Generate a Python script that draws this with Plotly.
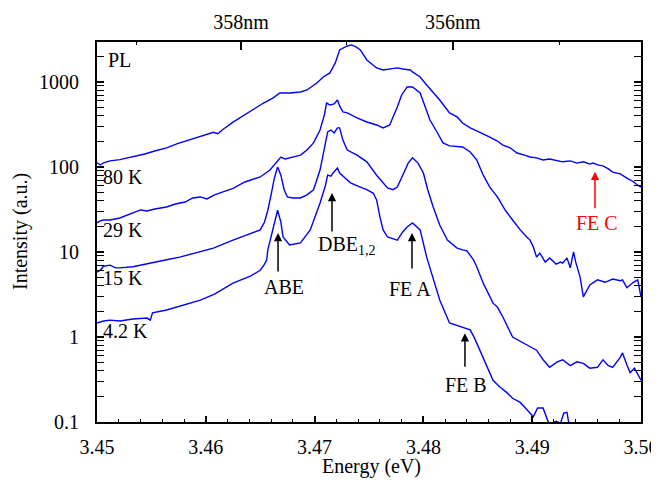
import math
import plotly.graph_objects as go

# ---------------- data ----------------
E_80K = [3.4500, 3.4503, 3.4506, 3.4512, 3.4521, 3.4533, 3.4544, 3.4553, 3.4564, 3.4574, 3.4583, 3.4592,
         3.4599, 3.4607, 3.4611, 3.4615, 3.4625, 3.4631, 3.4643, 3.4653, 3.4662, 3.4668, 3.4677, 3.4687,
         3.4693, 3.4702, 3.4708, 3.4714, 3.4719, 3.4723, 3.4730, 3.4734, 3.4738, 3.4742, 3.4748, 3.4754,
         3.4757, 3.4763, 3.4769, 3.4776, 3.4781, 3.4788, 3.4790, 3.4797, 3.4803, 3.4809, 3.4815, 3.4824,
         3.4831, 3.4836, 3.4843, 3.4849, 3.4855, 3.4861, 3.4868, 3.4873, 3.4880, 3.4886, 3.4893, 3.4898,
         3.4904, 3.4910, 3.4916, 3.4923, 3.4928, 3.4935, 3.4941, 3.4947, 3.4953, 3.4956, 3.4960, 3.4965,
         3.4970, 3.4974, 3.4981, 3.4987, 3.4993, 3.4997, 3.5000]
I_80K = [112, 106, 112, 118, 122, 131, 142, 154, 168, 188, 205, 222,
         238, 256, 246, 272, 337, 377, 468, 565, 649, 742, 742, 763,
         805, 973, 1145, 1276, 1674, 2380, 2652, 2725, 2580, 2380, 1815, 1585,
         1462, 1384, 1422, 1462, 1422, 1384, 1312, 1145, 922, 763, 614, 432,
         388, 329, 288, 265, 245, 225, 202, 181, 167, 146, 138, 131,
         128, 121, 124, 118, 115, 118, 111, 115, 108, 111, 106, 103,
         95, 87, 83, 74, 67, 61, 58]

E_29K = [3.4500, 3.4503, 3.4506, 3.4512, 3.4521, 3.4533, 3.4540, 3.4546, 3.4553, 3.4564, 3.4572, 3.4581,
         3.4588, 3.4595, 3.4601, 3.4608, 3.4625, 3.4636, 3.4650, 3.4659, 3.4665, 3.4669, 3.4673, 3.4677,
         3.4687, 3.4693, 3.4699, 3.4705, 3.4709, 3.4711, 3.4714, 3.4718, 3.4721, 3.4723, 3.4726, 3.4730,
         3.4739, 3.4748, 3.4757, 3.4763, 3.4769, 3.4776, 3.4780, 3.4785, 3.4790, 3.4797, 3.4801, 3.4806,
         3.4813, 3.4818, 3.4824, 3.4831, 3.4836, 3.4843, 3.4849, 3.4855, 3.4861, 3.4868, 3.4875, 3.4882,
         3.4889, 3.4895, 3.4898, 3.4901, 3.4904, 3.4907, 3.4912, 3.4916, 3.4922, 3.4926, 3.4928, 3.4932,
         3.4935, 3.4938, 3.4940, 3.4944, 3.4947, 3.4953, 3.4960, 3.4967, 3.4974, 3.4981, 3.4983, 3.4987,
         3.4993, 3.4997, 3.5000]
I_29K = [22, 23.2, 23.8, 23.8, 25.1, 28.8, 31.2, 30.4, 32, 33.8, 36.7, 38.7,
         43.2, 44.4, 42, 46.9, 56, 66.6, 76.3, 92, 115, 131, 124, 128,
         138, 158, 192, 272, 409, 566, 536, 551, 614, 522, 444, 432,
         377, 338, 312, 288, 312, 508, 703, 873, 873, 742, 536, 357,
         251, 192, 177, 172, 172, 150, 121, 80, 58, 44.4, 31.2, 23.8,
         18.2, 15, 13.8, 11.5, 8.7, 9.7, 7.6, 8.5, 7.2, 7.6, 7.4, 8.5,
         6.5, 10, 7.6, 5.1, 2.96, 4.1, 4.7, 4.4, 4.8, 4.6, 4.7, 3.8,
         4.4, 4.7, 2.96]

E_15K = [3.4500, 3.4503, 3.4506, 3.4512, 3.4517, 3.4521, 3.4533, 3.4546, 3.4564, 3.4576, 3.4595, 3.4607,
         3.4625, 3.4641, 3.4650, 3.4654, 3.4657, 3.4660, 3.4663, 3.4666, 3.4669, 3.4672, 3.4675, 3.4680,
         3.4687, 3.4693, 3.4699, 3.4705, 3.4709, 3.4712, 3.4715, 3.4718, 3.4721, 3.4723, 3.4726, 3.4730,
         3.4739, 3.4748, 3.4757, 3.4767, 3.4772, 3.4776, 3.4781, 3.4786, 3.4790, 3.4795, 3.4800, 3.4804,
         3.4809, 3.4815, 3.4822, 3.4831, 3.4836, 3.4840, 3.4846, 3.4849, 3.4855, 3.4864, 3.4868, 3.4873,
         3.4882, 3.4892, 3.4898, 3.4904, 3.4910, 3.4916, 3.4923, 3.4928, 3.4935, 3.4941, 3.4947, 3.4953,
         3.4960, 3.4965, 3.4970, 3.4974, 3.4981, 3.4983, 3.4987, 3.4990, 3.4994, 3.5000]
I_15K = [5.8, 6.1, 6.8, 7.0, 6.5, 6.5, 6.7, 7.2, 8.1, 8.7, 10, 11.1,
         13.8, 16.3, 18.2, 22.5, 31, 46.9, 74, 100, 80, 54, 44.4, 43.2,
         43.2, 46.9, 54, 92, 158, 258, 272, 251, 288, 288, 208, 158,
         138, 115, 80, 56.6, 54, 58, 80, 111, 128, 111, 85, 54,
         33.8, 20.8, 13.8, 11.1, 10.6, 10.3, 8.1, 6.7, 4.3, 2.5, 2.25, 1.72,
         1.0, 0.85, 0.76, 0.70, 0.54, 0.44, 0.51, 0.54, 0.46, 0.51, 0.49, 0.43,
         0.44, 0.54, 0.46, 0.44, 0.58, 0.65, 0.47, 0.38, 0.43, 0.31]

E_4K = [3.4500, 3.4506, 3.4512, 3.4521, 3.4533, 3.4546, 3.4549, 3.4551, 3.4564, 3.4576, 3.4595, 3.4608,
        3.4625, 3.4641, 3.4650, 3.4654, 3.4656, 3.4657, 3.4662, 3.4666, 3.4669, 3.4671, 3.4677, 3.4687,
        3.4696, 3.4705, 3.4710, 3.4712, 3.4715, 3.4717, 3.4721, 3.4723, 3.4728, 3.4733, 3.4742, 3.4748,
        3.4754, 3.4757, 3.4760, 3.4763, 3.4767, 3.4776, 3.4781, 3.4785, 3.4790, 3.4797, 3.4803, 3.4809,
        3.4815, 3.4824, 3.4834, 3.4843, 3.4847, 3.4852, 3.4858, 3.4864, 3.4870, 3.4877, 3.4882, 3.4889,
        3.4895, 3.4901, 3.4905, 3.4910, 3.4914, 3.4916, 3.4922, 3.4926, 3.4929, 3.4932, 3.4934, 3.4939]
I_4K = [1.46, 1.54, 1.58, 1.54, 1.63, 1.67, 1.58, 1.92, 2.08, 2.32, 2.72, 3.2,
        4.3, 5.2, 6.1, 7.2, 8.1, 10.6, 19.7, 31, 22.5, 15, 12.1, 12.8,
        18.2, 37.7, 61, 80, 78, 85, 97, 85, 74, 65, 58, 54,
        49, 41, 26, 18.2, 15, 13.8, 17.2, 19.7, 22, 18.2, 8.7, 4.7,
        2.72, 1.46, 1.31, 1.21, 0.97, 0.70, 0.47, 0.31, 0.26, 0.22, 0.19, 0.17,
        0.14, 0.115, 0.146, 0.146, 0.106, 0.095, 0.102, 0.097, 0.127, 0.13, 0.09, 0.08]

temp_labels = ["80 K", "29 K", "15 K", "4.2 K"]
temp_label_I = [76, 18.2, 4.9, 1.17]

peak_names = ["ABE", "DBE<sub>1,2</sub>", "FE A", "FE B", "FE C"]
peak_E = [3.46664, 3.4716, 3.47895, 3.48382, 3.49577]
peak_tip_I = [16.7, 49.4, 16.7, 1.11, 87.6]
peak_colors = ["black", "black", "black", "black", "#ff0000"]

nm_ticks = [359, 358, 357, 356, 355]
nm_labels = ["358nm", "356nm"]

x_ticks = [3.45, 3.46, 3.47, 3.48, 3.49, 3.50]
x_ticktext = ["3.45", "3.46", "3.47", "3.48", "3.49", "3.50"]
y_ticks = [0.1, 1, 10, 100, 1000]
y_ticktext = ["0.1", "1", "10", "100", "1000"]

# ---------------- figure ----------------
FONT = "Liberation Serif, Times New Roman, serif"
BLUE = "#0000ff"
FS = 20

fig = go.Figure()
for E, I in [(E_80K, I_80K), (E_29K, I_29K), (E_15K, I_15K), (E_4K, I_4K)]:
    fig.add_trace(go.Scatter(x=E, y=I, mode="lines",
                             line=dict(color=BLUE, width=1.4),
                             showlegend=False, hoverinfo="skip"))

hc = 1239.84
major_nm_E = [hc / 358, hc / 356]
minor_nm_E = [hc / 359, hc / 357, hc / 355]

y_minor = [m * 10 ** d for d in range(-1, 4) for m in range(2, 10)]

# the page body has an 8 px margin, so the figure is 8 px smaller and shifted
fig.update_layout(
    width=651, height=483,
    margin=dict(l=89, r=18, t=34, b=69, autoexpand=False),
    paper_bgcolor="white", plot_bgcolor="white",
    font=dict(family=FONT, size=FS, color="black"),
    xaxis=dict(range=[3.45, 3.50], tickvals=x_ticks, ticktext=x_ticktext, automargin=False,
               ticks="inside", ticklen=6, tickwidth=1.5, tickcolor="black",
               showline=True, linecolor="black", linewidth=2, mirror=True,
               showgrid=False, zeroline=False, ticklabelstandoff=6, ticklabeloverflow="allow",
               minor=dict(dtick=0.002, ticks="inside", ticklen=3, tickcolor="black", tickwidth=1.2)),
    xaxis2=dict(range=[3.45, 3.50], overlaying="x", side="top", anchor="y", automargin=False,
                tickvals=major_nm_E, ticktext=nm_labels,
                ticks="inside", ticklen=8, tickwidth=1.5, tickcolor="black",
                showline=False, showgrid=False, zeroline=False, ticklabelstandoff=8,
                minor=dict(tickvals=minor_nm_E, ticks="inside", ticklen=3, tickcolor="black", tickwidth=1.2)),
    yaxis=dict(type="log", range=[-1, 3.47], tickvals=y_ticks, ticktext=y_ticktext, automargin=False,
               ticks="inside", ticklen=7, tickwidth=1.5, tickcolor="black",
               showline=True, linecolor="black", linewidth=2, mirror="allticks",
               showgrid=False, zeroline=False, ticklabelstandoff=12,
               minor=dict(tickvals=y_minor, ticks="inside", ticklen=4, tickcolor="black", tickwidth=1.2)),
)

# invisible helper so the top axis is drawn
fig.add_trace(go.Scatter(x=[3.45, 3.50], y=[1, 1], xaxis="x2", mode="lines",
                         line=dict(width=0), opacity=0, showlegend=False, hoverinfo="skip"))

anns = []
anns.append(dict(text="Energy (eV)", xref="paper", yref="paper", x=0.504, y=-0.116,
                 showarrow=False, font=dict(size=FS), xanchor="center", yanchor="middle"))
anns.append(dict(text="Intensity (a.u.)", xref="paper", yref="paper", x=-0.1415, y=0.5,
                 showarrow=False, textangle=-90, font=dict(size=FS), xanchor="center", yanchor="middle"))
anns.append(dict(text="PL", xref="paper", yref="y", x=0.017, y=math.log10(1820),
                 showarrow=False, xanchor="left", yanchor="middle", font=dict(size=FS)))
for t, yi in zip(temp_labels, temp_label_I):
    anns.append(dict(text=t, xref="paper", yref="y", x=0.008, y=math.log10(yi),
                     showarrow=False, xanchor="left", yanchor="middle", font=dict(size=FS)))
arrow_len = [40, 40, 37, 35, 38]
text_dx = [6, 15, -2, 1, 2]
text_dy = [-54, -52, -56, -52, -51]
for name, e, ti, col, al, dx, dy in zip(peak_names, peak_E, peak_tip_I, peak_colors,
                                         arrow_len, text_dx, text_dy):
    anns.append(dict(text="", x=e, y=math.log10(ti), xref="x", yref="y",
                     showarrow=True, ax=0, ay=al, arrowhead=2, arrowsize=1.1,
                     arrowwidth=1.5, arrowcolor=col))
    anns.append(dict(text=name, x=e, y=math.log10(ti), xref="x", yref="y",
                     showarrow=False, xshift=dx, yshift=dy, xanchor="center", yanchor="middle",
                     font=dict(size=FS, color=col)))
fig.update_layout(annotations=anns)

fig.write_html("out.html")
